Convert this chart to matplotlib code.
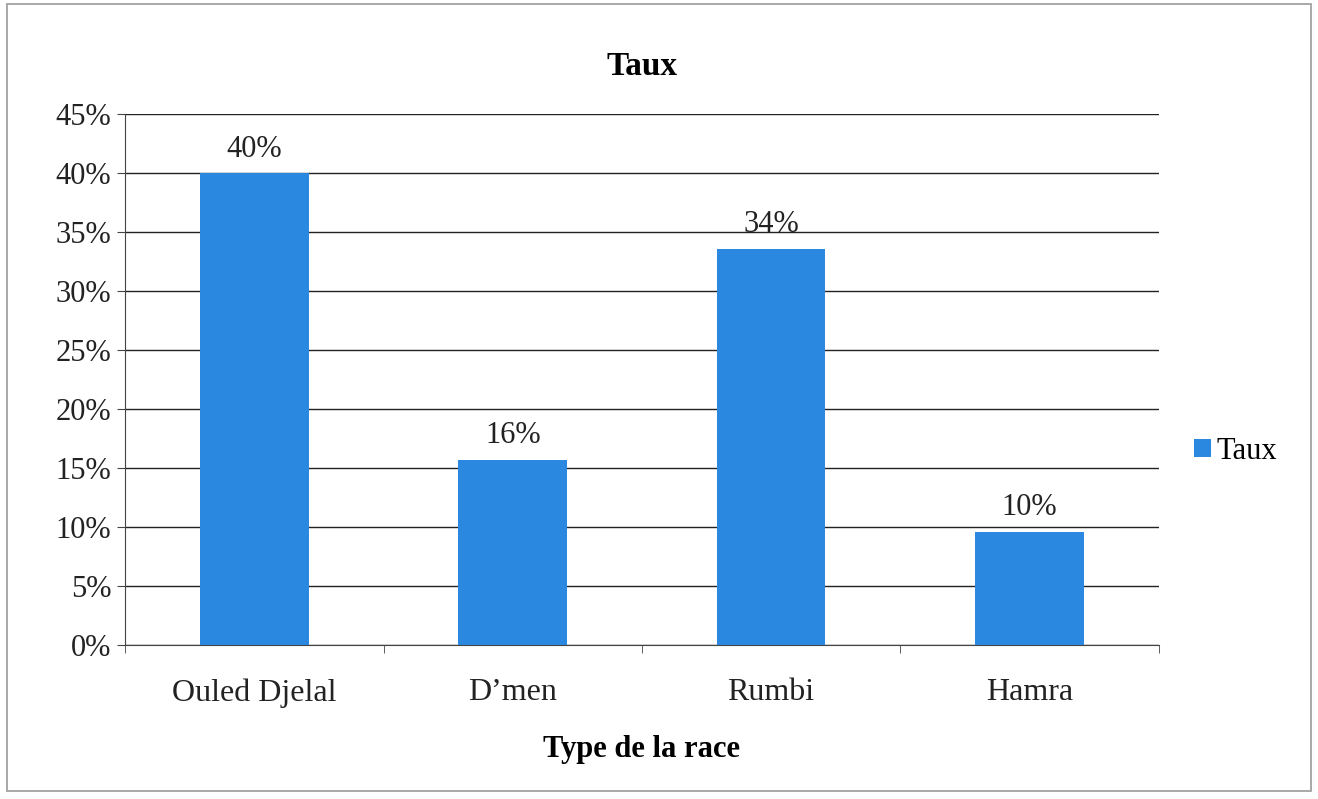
import matplotlib.pyplot as plt
from matplotlib.patches import Rectangle

races = ["Ouled Djelal", "D\u2019men", "Rumbi", "Hamra"]
taux = [0.40, 0.157, 0.336, 0.096]
yticks = [0, 0.05, 0.10, 0.15, 0.20, 0.25, 0.30, 0.35, 0.40, 0.45]

plt.rcParams['font.family'] = ['Liberation Serif', 'DejaVu Serif']

fig = plt.figure(figsize=(13.18, 7.99), dpi=100)
ax = fig.add_axes([0.095, 0.193, 0.784, 0.664])

x = list(range(len(races)))
bars = ax.bar(x, taux, width=0.42, color='#2a88e0', label='Taux', zorder=3)
for b, v in zip(bars, taux):
    ax.text(b.get_x() + b.get_width() / 2, v + 0.008, '{:.0%}'.format(v),
            ha='center', va='bottom', fontsize=22, color='#222222')

ax.set_xlim(-0.5, len(races) - 0.5)
ax.set_ylim(0, 0.45)
ax.set_yticks(yticks)
ax.set_yticklabels(['{:.0%}'.format(t) for t in yticks], fontsize=22, color='#222222')
ax.yaxis.grid(True, color='#222222', linewidth=1, zorder=0)
ax.set_xticks(x)
ax.set_xticklabels(races, fontsize=23, color='#222222')
ax.set_xticks([i + 0.5 for i in range(-1, len(races))], minor=True)
ax.tick_params(axis='x', which='major', length=0, pad=24)
ax.tick_params(axis='x', which='minor', length=6, color='#444444')
ax.tick_params(axis='y', length=6, color='#444444', pad=4)
for s in ['top', 'right']:
    ax.spines[s].set_visible(False)
for s in ['left', 'bottom']:
    ax.spines[s].set_color('#444444')

ax.set_title('Taux', fontsize=24, fontweight='bold', pad=28)
ax.set_xlabel('Type de la race', fontsize=22, fontweight='bold', labelpad=20)

fig.legend(loc='center left', bbox_to_anchor=(0.885, 0.435), frameon=False,
           fontsize=22, handlelength=0.55, handleheight=0.55, handletextpad=0.2)

fig.patches.append(Rectangle((0.005, 0.01), 0.99, 0.985, transform=fig.transFigure,
                             fill=False, edgecolor='#999999', linewidth=1.2))

fig.savefig('out.png', dpi=100)
